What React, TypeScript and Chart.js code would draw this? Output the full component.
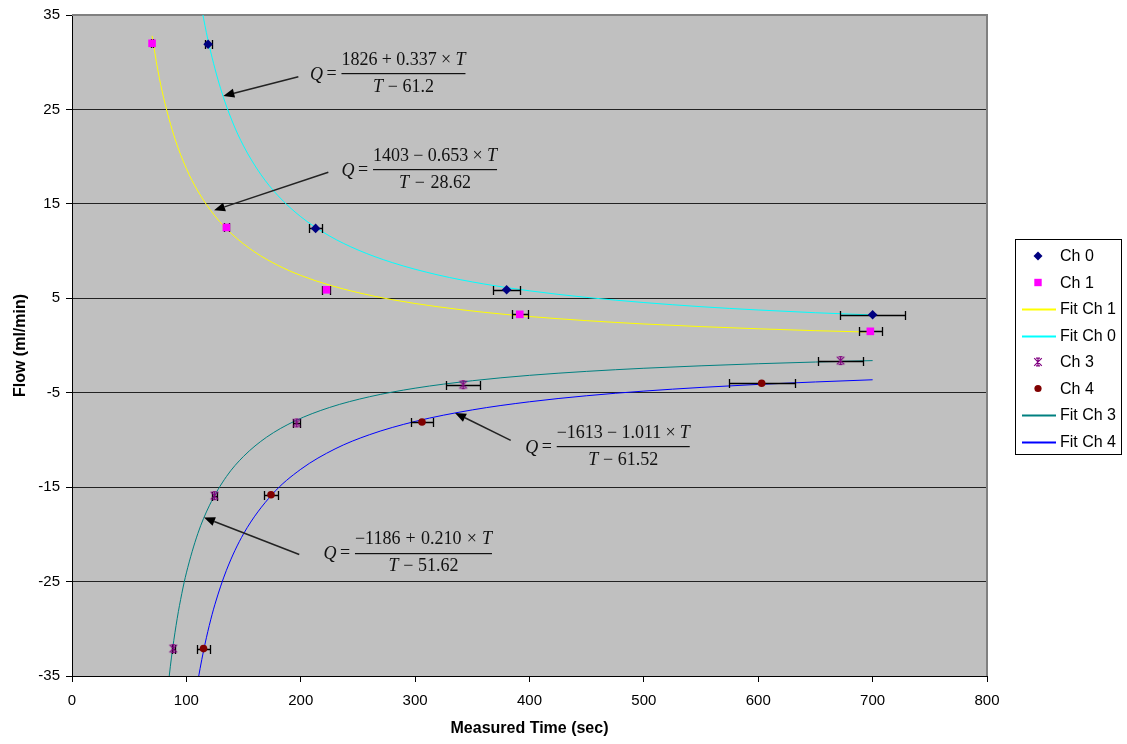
import React, { useEffect, useRef } from 'react';
import { Chart, registerables } from 'chart.js';

Chart.register(...registerables);

// ---------------- data ----------------
const xAxisRange = [0, 800];
const xAxisStep = 100;
const yAxisRange = [-35, 35];
const yAxisStep = 10;

const ch0Time = [119, 213, 380, 700];
const ch0Flow = [31.9, 12.4, 5.9, 3.25];
const ch0TimeErr = [3, 5.5, 12, 28.5];

const ch1Time = [70, 135, 222.5, 391.5, 698];
const ch1Flow = [32, 12.5, 5.9, 3.3, 1.5];
const ch1TimeErr = [1, 2, 3.5, 7, 10];

const ch3Time = [88.5, 124.5, 196.5, 342, 672];
const ch3Flow = [-32.1, -15.9, -8.2, -4.15, -1.6];
const ch3TimeErr = [1.5, 2, 3, 15, 20];

const ch4Time = [115, 174, 306, 603];
const ch4Flow = [-32.1, -15.8, -8.1, -4.0];
const ch4TimeErr = [5.5, 6.5, 10, 29];

const fitCh0Time = [113, 115, 120, 130, 140, 150, 165, 180, 200, 225, 250, 280, 320, 360, 400, 450, 500, 550, 600, 650, 700];
const fitCh0Flow = [35.99, 34.66, 31.74, 27.18, 23.77, 21.13, 18.13, 15.88, 13.64, 11.61, 10.12, 8.78, 7.47, 6.52, 5.79, 5.09, 4.55, 4.11, 3.76, 3.47, 3.23];

const fitCh1Time = [70, 75, 80, 90, 100, 110, 125, 140, 160, 180, 200, 225, 250, 280, 320, 360, 400, 450, 500, 550, 600, 650, 700];
const fitCh1Flow = [32.8, 29.19, 26.29, 21.9, 18.74, 16.36, 13.71, 11.78, 9.88, 8.49, 7.42, 6.4, 5.6, 4.85, 4.1, 3.52, 3.07, 2.63, 2.28, 2.0, 1.77, 1.57, 1.41];

const fitCh3Time = [84, 86, 88, 92, 96, 100, 110, 120, 135, 150, 170, 195, 225, 260, 300, 350, 400, 450, 500, 550, 600, 650, 700];
const fitCh3Flow = [-36.08, -33.97, -32.09, -28.89, -26.27, -24.08, -19.92, -16.98, -13.88, -11.74, -9.72, -7.99, -6.57, -5.43, -4.52, -3.73, -3.16, -2.74, -2.41, -2.15, -1.93, -1.75, -1.6];

const fitCh4Time = [110, 112, 115, 120, 125, 135, 150, 175, 200, 230, 260, 300, 350, 400, 450, 500, 550, 600, 650, 700];
const fitCh4Flow = [-35.57, -34.2, -32.34, -29.66, -27.4, -23.81, -19.94, -15.77, -13.11, -10.95, -9.45, -8.04, -6.82, -5.96, -5.32, -4.83, -4.44, -4.12, -3.86, -3.63];

const legendLabels = ['Ch 0', 'Ch 1', 'Fit Ch 1', 'Fit Ch 0', 'Ch 3', 'Ch 4', 'Fit Ch 3', 'Fit Ch 4'];

type Part = { t: string; it?: boolean };
const equations: { num: Part[]; den: Part[]; at: number[]; width: number; denWidth: number; from: number[]; to: number[] }[] = [
  {
    num: [{ t: '1826' }, { t: '+' }, { t: '0.337' }, { t: '×' }, { t: 'T', it: true }],
    den: [{ t: 'T', it: true }, { t: '−' }, { t: '61.2' }],
    at: [235.6, 28.81], width: 124, denWidth: 61, from: [197.9, 28.46], to: [132.3, 26.43],
  },
  {
    num: [{ t: '1403' }, { t: '−' }, { t: '0.653' }, { t: '×' }, { t: 'T', it: true }],
    den: [{ t: 'T', it: true }, { t: '−' }, { t: '28.62' }],
    at: [263.2, 18.69], width: 124, denWidth: 72, from: [224.1, 18.34], to: [124.2, 14.31],
  },
  {
    num: [{ t: '−1613' }, { t: '−' }, { t: '1.011' }, { t: '×' }, { t: 'T', it: true }],
    den: [{ t: 'T', it: true }, { t: '−' }, { t: '61.52' }],
    at: [423.8, -10.65], width: 133, denWidth: 70, from: [383.6, -10.05], to: [334.9, -7.14],
  },
  {
    num: [{ t: '−1186' }, { t: '+' }, { t: '0.210' }, { t: '×' }, { t: 'T', it: true }],
    den: [{ t: 'T', it: true }, { t: '−' }, { t: '51.62' }],
    at: [247.4, -21.93], width: 137, denWidth: 70, from: [198.7, -22.14], to: [115.4, -18.21],
  },
];

const SANS = '"Liberation Sans", Arial, sans-serif';
const SERIF = '"Liberation Serif", "Times New Roman", serif';

const pts = (xs: number[], ys: number[]) => xs.map((x, i) => ({ x, y: ys[i] }));

function drawParts(ctx: CanvasRenderingContext2D, parts: Part[], cx: number, cy: number, width: number, size: number) {
  const fonts = parts.map((p) => `${p.it ? 'italic ' : ''}${size}px ${SERIF}`);
  const ws = parts.map((p, i) => {
    ctx.font = fonts[i];
    return ctx.measureText(p.t).width;
  });
  const total = ws.reduce((a, b) => a + b, 0);
  let gap = 0;
  let sx = 1;
  if (total < width && parts.length > 1) gap = (width - total) / (parts.length - 1);
  else if (total > width) sx = width / total;
  ctx.save();
  ctx.translate(cx - width / 2, cy);
  ctx.scale(sx, 1);
  let x = 0;
  ctx.textBaseline = 'middle';
  ctx.textAlign = 'left';
  parts.forEach((p, i) => {
    ctx.font = fonts[i];
    ctx.fillText(p.t, x, 0);
    x += ws[i] + gap;
  });
  ctx.restore();
}

function drawMarker(ctx: CanvasRenderingContext2D, kind: string, x: number, y: number, color: string) {
  ctx.save();
  ctx.fillStyle = color;
  ctx.strokeStyle = color;
  ctx.lineWidth = 1.2;
  ctx.beginPath();
  if (kind === 'diamond') {
    ctx.moveTo(x, y - 4.5); ctx.lineTo(x + 4.5, y); ctx.lineTo(x, y + 4.5); ctx.lineTo(x - 4.5, y); ctx.closePath(); ctx.fill();
  } else if (kind === 'square') {
    ctx.rect(x - 3.7, y - 3.7, 7.4, 7.4); ctx.fill();
  } else if (kind === 'circle') {
    ctx.arc(x, y, 3.6, 0, Math.PI * 2); ctx.fill();
  } else if (kind === 'star') {
    const r = 3.8;
    ctx.moveTo(x - r, y - r); ctx.lineTo(x + r, y + r);
    ctx.moveTo(x + r, y - r); ctx.lineTo(x - r, y + r);
    ctx.moveTo(x, y - r); ctx.lineTo(x, y + r);
    ctx.moveTo(x - 2, y - r); ctx.lineTo(x + 2, y - r);
    ctx.moveTo(x - 2, y + r); ctx.lineTo(x + 2, y + r);
    ctx.stroke();
  }
  ctx.restore();
}

function makeStar(color: string): HTMLCanvasElement {
  const c = document.createElement('canvas');
  c.width = 11; c.height = 11;
  const g = c.getContext('2d')!;
  drawMarker(g, 'star', 5.5, 5.5, color);
  return c;
}

const plotPlugin = {
  id: 'plotDecor',
  beforeDraw(chart: any) {
    const { ctx, chartArea: a } = chart;
    ctx.save();
    ctx.fillStyle = '#ffffff';
    ctx.fillRect(0, 0, chart.width, chart.height);
    ctx.fillStyle = '#C0C0C0';
    ctx.fillRect(a.left, a.top, a.right - a.left, a.bottom - a.top);
    ctx.restore();
  },
  beforeDatasetsDraw(chart: any) {
    const { ctx, chartArea: a } = chart;
    ctx.save();
    ctx.strokeStyle = '#808080';
    ctx.lineWidth = 2;
    ctx.beginPath();
    ctx.moveTo(a.left, a.top);
    ctx.lineTo(a.right, a.top);
    ctx.lineTo(a.right, a.bottom);
    ctx.stroke();
    ctx.restore();
  },
  beforeDatasetDraw(chart: any, args: any) {
    const ds = chart.data.datasets[args.index];
    if (!ds.errX) return;
    const { ctx } = chart;
    const xs = chart.scales.x;
    const ys = chart.scales.y;
    ctx.save();
    ctx.strokeStyle = '#000';
    ctx.lineWidth = 1.3;
    ds.data.forEach((p: any, i: number) => {
      const e = ds.errX[i];
      const x1 = Math.round(xs.getPixelForValue(p.x - e)) + 0.5;
      const x2 = Math.round(xs.getPixelForValue(p.x + e)) + 0.5;
      const y = Math.round(ys.getPixelForValue(p.y)) + 0.5;
      ctx.beginPath();
      ctx.moveTo(x1, y); ctx.lineTo(x2, y);
      ctx.moveTo(x1, y - 4.5); ctx.lineTo(x1, y + 4.5);
      ctx.moveTo(x2, y - 4.5); ctx.lineTo(x2, y + 4.5);
      ctx.stroke();
    });
    ctx.restore();
  },
  afterDraw(chart: any) {
    const { ctx, chartArea: a } = chart;
    const xs = chart.scales.x;
    const ys = chart.scales.y;
    // equations and arrows
    ctx.save();
    ctx.fillStyle = '#111';
    equations.forEach((eq) => {
      const lx = xs.getPixelForValue(eq.at[0]);
      const ly = ys.getPixelForValue(eq.at[1]);
      const cx = lx + eq.width / 2;
      drawParts(ctx, eq.num, cx, ly - 13, eq.width, 18);
      drawParts(ctx, eq.den, cx, ly + 14, eq.denWidth, 18);
      ctx.fillRect(lx, Math.round(ly), eq.width, 1.2);
      ctx.textBaseline = 'middle';
      ctx.textAlign = 'center';
      ctx.font = `italic 18px ${SERIF}`;
      ctx.fillText('Q', lx - 25, ly + 2);
      ctx.font = `18px ${SERIF}`;
      ctx.fillText('=', lx - 10, ly + 1);
      // arrow
      const fx = xs.getPixelForValue(eq.from[0]);
      const fy = ys.getPixelForValue(eq.from[1]);
      const tx = xs.getPixelForValue(eq.to[0]);
      const ty = ys.getPixelForValue(eq.to[1]);
      const ang = Math.atan2(ty - fy, tx - fx);
      const hl = 11, hw = 4.5;
      const bx = tx - Math.cos(ang) * hl;
      const by = ty - Math.sin(ang) * hl;
      ctx.strokeStyle = '#222';
      ctx.lineWidth = 1.5;
      ctx.beginPath();
      ctx.moveTo(fx, fy);
      ctx.lineTo(bx, by);
      ctx.stroke();
      ctx.fillStyle = '#000';
      ctx.beginPath();
      ctx.moveTo(tx, ty);
      ctx.lineTo(bx + Math.sin(ang) * hw, by - Math.cos(ang) * hw);
      ctx.lineTo(bx - Math.sin(ang) * hw, by + Math.cos(ang) * hw);
      ctx.closePath();
      ctx.fill();
      ctx.fillStyle = '#111';
    });
    ctx.restore();

    // legend
    const left = a.right + 28;
    const top = a.top + 224;
    const w = 106;
    const h = 215;
    ctx.save();
    ctx.fillStyle = '#fff';
    ctx.fillRect(left, top, w, h);
    ctx.strokeStyle = '#000';
    ctx.lineWidth = 1;
    ctx.strokeRect(Math.round(left) + 0.5, Math.round(top) + 0.5, w, h);
    chart.data.datasets.forEach((ds: any, i: number) => {
      const y = top + 17 + i * 26.5;
      if (ds.showLine) {
        ctx.strokeStyle = ds.borderColor;
        ctx.lineWidth = 2;
        ctx.beginPath();
        ctx.moveTo(left + 7, Math.round(y) + 0.5);
        ctx.lineTo(left + 41, Math.round(y) + 0.5);
        ctx.stroke();
      } else {
        drawMarker(ctx, ds.legendKind, left + 23, y, ds.legendColor);
      }
      ctx.fillStyle = '#000';
      ctx.font = `16px ${SANS}`;
      ctx.textBaseline = 'middle';
      ctx.textAlign = 'left';
      ctx.fillText(ds.label, left + 45, y + 1);
    });
    ctx.restore();
  },
};

export default function App() {
  const ref = useRef<HTMLCanvasElement>(null);
  useEffect(() => {
    document.body.style.margin = '0';
    const starImg = makeStar('#800080');
    const fitLine = (label: string, xs: number[], ys: number[], color: string) => ({
      label,
      data: pts(xs, ys),
      showLine: true,
      borderColor: color,
      backgroundColor: color,
      borderWidth: 1,
      pointRadius: 0,
      cubicInterpolationMode: 'monotone',
    });
    const chart = new Chart(ref.current as HTMLCanvasElement, {
      type: 'scatter',
      data: {
        datasets: [
          {
            label: legendLabels[0], data: pts(ch0Time, ch0Flow), errX: ch0TimeErr,
            pointStyle: 'rectRot', pointRadius: 4.8, backgroundColor: '#000080', borderColor: '#000080', borderWidth: 0,
            legendKind: 'diamond', legendColor: '#000080',
          },
          {
            label: legendLabels[1], data: pts(ch1Time, ch1Flow), errX: ch1TimeErr,
            pointStyle: 'rect', pointRadius: 5.4, backgroundColor: '#FF00FF', borderColor: '#FF00FF', borderWidth: 0,
            legendKind: 'square', legendColor: '#FF00FF',
          },
          fitLine(legendLabels[2], fitCh1Time, fitCh1Flow, '#FFFF00'),
          fitLine(legendLabels[3], fitCh0Time, fitCh0Flow, '#00FFFF'),
          {
            label: legendLabels[4], data: pts(ch3Time, ch3Flow), errX: ch3TimeErr,
            pointStyle: starImg, pointRadius: 5, backgroundColor: '#800080', borderColor: '#800080',
            legendKind: 'star', legendColor: '#800080',
          },
          {
            label: legendLabels[5], data: pts(ch4Time, ch4Flow), errX: ch4TimeErr,
            pointStyle: 'circle', pointRadius: 3.8, backgroundColor: '#800000', borderColor: '#800000', borderWidth: 0,
            legendKind: 'circle', legendColor: '#800000',
          },
          fitLine(legendLabels[6], fitCh3Time, fitCh3Flow, '#008080'),
          fitLine(legendLabels[7], fitCh4Time, fitCh4Flow, '#0000FF'),
        ] as any,
      },
      options: {
        animation: false,
        responsive: false,
        events: [],
        layout: { padding: { top: 12, right: 140, left: 0, bottom: 0 } },
        plugins: { legend: { display: false }, tooltip: { enabled: false } },
        scales: {
          x: {
            type: 'linear',
            min: xAxisRange[0],
            max: xAxisRange[1],
            afterFit: (s: any) => { s.height = 68; },
            ticks: { stepSize: xAxisStep, color: '#000', font: { family: SANS, size: 15 }, padding: 10 },
            grid: { drawOnChartArea: false, drawTicks: true, tickLength: 6, color: '#000' },
            border: { display: true, color: '#000', width: 1 },
            title: { display: true, text: 'Measured Time (sec)', color: '#000', font: { family: SANS, size: 16, weight: 'bold' }, padding: { top: 0, bottom: 6 } },
          },
          y: {
            type: 'linear',
            min: yAxisRange[0],
            max: yAxisRange[1],
            afterFit: (s: any) => { s.width = 72; },
            ticks: { stepSize: yAxisStep, color: '#000', font: { family: SANS, size: 15 }, padding: 6 },
            grid: {
              drawOnChartArea: true, drawTicks: true, tickLength: 6, tickColor: '#000',
              color: (c: any) => (c.tick && c.tick.value === yAxisRange[1] ? '#808080' : '#222'),
            },
            border: { display: true, color: '#000', width: 1 },
            title: { display: true, text: 'Flow (ml/min)', color: '#000', font: { family: SANS, size: 16, weight: 'bold' }, padding: { top: 11, bottom: 0 } },
          },
        },
      } as any,
      plugins: [plotPlugin],
    });
    return () => chart.destroy();
  }, []);
  return (
    <div style={{ width: 1127, height: 744 }}>
      <canvas ref={ref} width={1127} height={744} style={{ display: 'block' }} />
    </div>
  );
}
